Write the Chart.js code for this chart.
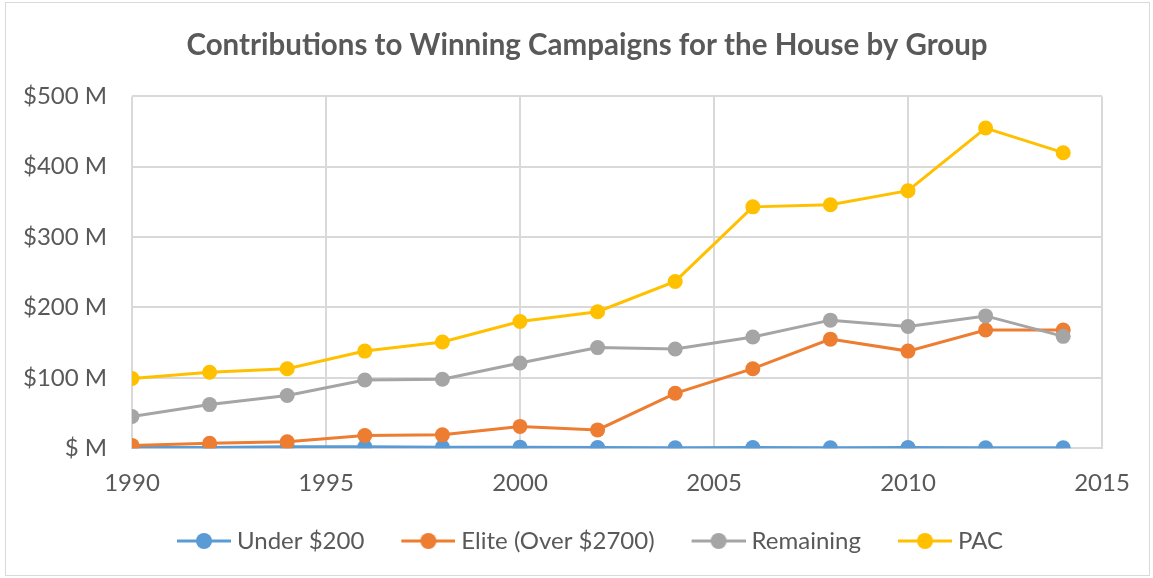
<!DOCTYPE html>
<html>
<head>
<meta charset="utf-8">
<script src="https://cdn.jsdelivr.net/npm/chart.js@4"></script>
<style>
  html, body { margin: 0; padding: 0; background: #fff; }
  #wrap { position: relative; width: 1153px; height: 578px; }
  #frame { position: absolute; left: 5px; top: 2px; width: 1145px; height: 574px; border: 1px solid #d9d9d9; box-sizing: border-box; pointer-events: none; }
</style>
</head>
<body>
<div id="wrap">
  <canvas id="chart" width="1153" height="578"></canvas>
  <div id="frame"></div>
</div>
<script>
// values in $ millions, election years
const years = [1990, 1992, 1994, 1996, 1998, 2000, 2002, 2004, 2006, 2008, 2010, 2012, 2014];
const under200 = [1, 1, 2, 2, 1.5, 1.5, 1, 0.5, 1, 0.5, 1, 0.5, 0.5];
const elite = [4, 7, 9, 18, 19, 31, 26, 78, 113, 155, 138, 168, 168];
const remaining = [45, 62, 75, 97, 98, 121, 143, 141, 158, 182, 173, 188, 159];
const pac = [99, 108, 113, 138, 151, 180, 194, 237, 343, 346, 366, 455, 420];

const seriesNames = ['Under $200', 'Elite (Over $2700)', 'Remaining', 'PAC'];
const seriesColors = ['#5B9BD5', '#ED7D31', '#A5A5A5', '#FFC000'];
const seriesValues = [under200, elite, remaining, pac];

const textGrey = '#595959';
const gridGrey = '#d9d9d9';

// legend box is BOX_W wide; the marker (54 wide) sits at its right end
const BOX_W = 54;
function legendMarker(color) {
  const c = document.createElement('canvas');
  c.width = BOX_W + 12; c.height = 18;
  const g = c.getContext('2d');
  const x0 = BOX_W - 42, x1 = BOX_W + 12;
  g.strokeStyle = color;
  g.lineWidth = 3;
  g.beginPath(); g.moveTo(x0, 9); g.lineTo(x1, 9); g.stroke();
  g.fillStyle = color;
  g.beginPath(); g.arc((x0 + x1) / 2, 9, 8, 0, Math.PI * 2); g.fill();
  return c;
}

const datasets = seriesNames.map((name, i) => ({
  label: name,
  data: years.map((y, j) => ({ x: y, y: seriesValues[i][j] })),
  borderColor: seriesColors[i],
  backgroundColor: seriesColors[i],
  borderWidth: 3,
  pointRadius: 7.5,
  pointHoverRadius: 7.5,
  pointBorderWidth: 0,
  order: seriesNames.length - 1 - i, // later series on top, as in the original
}));

new Chart(document.getElementById('chart'), {
  type: 'line',
  data: { datasets },
  options: {
    responsive: false,
    animation: false,
    layout: { padding: { left: 72, right: 51, top: 10, bottom: 15 } },
    plugins: {
      title: {
        display: true,
        text: 'Contributions to Winning Campaigns for the House by Group',
        color: textGrey,
        font: { family: 'Lato', size: 29.5, weight: 'bold' },
        padding: { top: 18, bottom: 33 },
      },
      legend: {
        position: 'bottom',
        labels: {
          color: textGrey,
          font: { family: 'Lato', size: 24 },
          usePointStyle: true,
          pointStyleWidth: BOX_W,
          padding: 31,
          generateLabels: (chart) => chart.data.datasets.map((ds, i) => ({
            text: ds.label,
            fontColor: textGrey,
            pointStyle: legendMarker(ds.borderColor),
            strokeStyle: ds.borderColor,
            fillStyle: ds.borderColor,
            lineWidth: 0,
            datasetIndex: i,
          })),
        },
      },
      tooltip: { enabled: false },
    },
    scales: {
      x: {
        type: 'linear',
        min: 1990,
        max: 2015,
        afterFit: (scale) => { scale.height -= 21; },
        ticks: {
          stepSize: 5,
          color: textGrey,
          font: { family: 'Lato', size: 24 },
          callback: (v) => String(v),
          padding: 21,
          maxRotation: 0,
        },
        grid: { color: gridGrey, lineWidth: 2, drawTicks: false },
        border: { color: gridGrey, width: 2 },
      },
      y: {
        min: 0,
        max: 500,
        afterFit: (scale) => { scale.width = 60; },
        ticks: {
          stepSize: 100,
          color: textGrey,
          font: { family: 'Lato', size: 24 },
          callback: (v) => (v === 0 ? '$ M' : '$' + v + ' M'),
          // mirrored so the labels are not clipped to the narrow axis box,
          // then pulled back left of the plot area
          mirror: true,
          crossAlign: 'far',
          padding: -109,
        },
        grid: { color: gridGrey, lineWidth: 2, drawTicks: false },
        border: { display: false },
      },
    },
  },
});
</script>
</body>
</html>
